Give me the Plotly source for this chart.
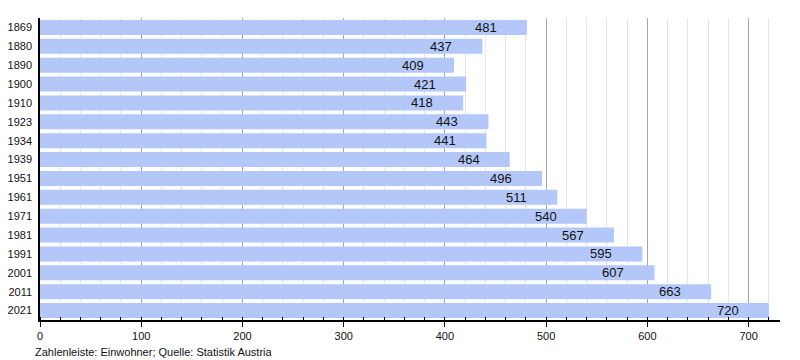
import plotly.graph_objects as go

years = ["1869", "1880", "1890", "1900", "1910", "1923", "1934", "1939",
         "1951", "1961", "1971", "1981", "1991", "2001", "2011", "2021"]
population = [481, 437, 409, 421, 418, 443, 441, 464,
              496, 511, 540, 567, 595, 607, 663, 720]
x_ticks = [0, 100, 200, 300, 400, 500, 600, 700]
footer = "Zahlenleiste: Einwohner; Quelle: Statistik Austria"

pos = list(range(len(years)))

fig = go.Figure()
fig.add_trace(go.Bar(
    x=population, y=pos, orientation="h",
    marker=dict(color="#b3c8f9", line=dict(width=0)),
    customdata=years, hovertemplate="%{customdata}: %{x}<extra></extra>",
))

for p, v in zip(pos, population):
    fig.add_annotation(x=v, y=p, text=str(v), showarrow=False,
                       xanchor="right", xshift=-28,
                       font=dict(family="Liberation Sans, Arial", size=13, color="#111"))

fig.add_annotation(text=footer, xref="paper", yref="paper", x=-0.009, y=-0.078,
                   xanchor="left", yanchor="top", showarrow=False,
                   font=dict(family="Liberation Sans, Arial", size=11, color="#111"))

fig.update_layout(
    width=800, height=360,
    margin=dict(l=32, r=28, t=10, b=48, autoexpand=False),
    paper_bgcolor="white", plot_bgcolor="white",
    bargap=0.2, showlegend=False,
    font=dict(family="Liberation Sans, Arial", size=11, color="#111"),
)
fig.update_xaxes(
    range=[0, 731], tickvals=x_ticks, ticktext=[str(t) for t in x_ticks],
    showline=True, linecolor="black", linewidth=1.5,
    ticks="outside", ticklen=5, tickcolor="black",
    showgrid=True, gridcolor="#a6a6a6", gridwidth=1,
    minor=dict(dtick=20, showgrid=True, gridcolor="#e6e6e6", gridwidth=1,
               ticks="inside", ticklen=3, tickcolor="black"),
    zeroline=False, fixedrange=True, automargin=False,
)
fig.update_yaxes(
    range=[len(years) - 0.5, -0.5], tickvals=pos, ticktext=years,
    showline=True, linecolor="black", linewidth=1.5,
    ticks="", showgrid=False, zeroline=False, fixedrange=True,
    ticklabelstandoff=4, automargin=False,
)

fig.write_html("out.html")
